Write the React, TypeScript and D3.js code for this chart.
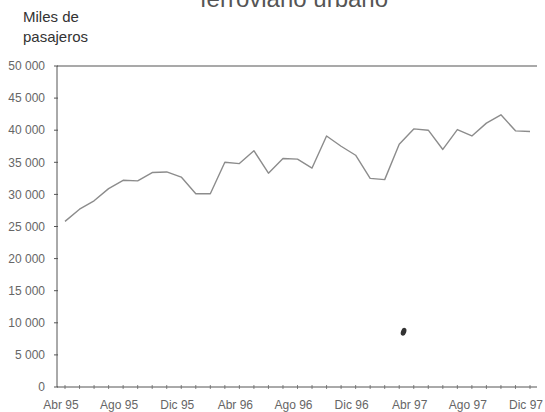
import * as d3 from 'd3';

// months shown, Apr 95 .. Dec 97
const months = [
    "Abr 95", "May 95", "Jun 95", "Jul 95", "Ago 95", "Sep 95", "Oct 95", "Nov 95", "Dic 95",
    "Ene 96", "Feb 96", "Mar 96", "Abr 96", "May 96", "Jun 96", "Jul 96", "Ago 96", "Sep 96",
    "Oct 96", "Nov 96", "Dic 96", "Ene 97", "Feb 97", "Mar 97", "Abr 97", "May 97", "Jun 97",
    "Jul 97", "Ago 97", "Sep 97", "Oct 97", "Nov 97", "Dic 97",
];

// miles de pasajeros
const pasajeros = [
    25800, 27700, 29000, 30900, 32200, 32100, 33400, 33500, 32700,
    30100, 30100, 35000, 34800, 36800, 33300, 35600, 35500, 34100,
    39100, 37500, 36100, 32500, 32300, 37800, 40200, 40000, 37000,
    40100, 39100, 41100, 42400, 39900, 39800,
];

const tickLabels = ["Abr 95", "Ago 95", "Dic 95", "Abr 96", "Ago 96", "Dic 96", "Abr 97", "Ago 97", "Dic 97"];
const yTicks = [0, 5000, 10000, 15000, 20000, 25000, 30000, 35000, 40000, 45000, 50000];

const W = 545;
const H = 412;
const font = "'Liberation Sans', Arial, sans-serif";

const App = () => {
    const x = d3.scaleLinear().domain([0, months.length - 1]).range([65, 530]);
    const y = d3.scaleLinear().domain([0, 50000]).range([387, 66]);
    const axisLeft = 57;
    const axisRight = 537;

    const line = d3.line<number>()
        .x((_, i) => x(i))
        .y(d => y(d));

    const fmt = (v: number) => v === 0 ? "0" : d3.format(",")(v).replace(/,/g, " ");

    return (
        <svg width={W} height={H} style={{ position: 'absolute', left: 0, top: 0, background: '#fff' }}>
            <text x={294} y={7} textAnchor="middle" fontFamily={font} fontSize={24} fill="#555">ferroviario urbano</text>
            <text x={23} y={22} fontFamily={font} fontSize={15} fill="#333">Miles de</text>
            <text x={23} y={42} fontFamily={font} fontSize={15} fill="#333">pasajeros</text>

            {/* y axis */}
            <line x1={axisLeft} x2={axisLeft} y1={y(50000)} y2={y(0)} stroke="#555" strokeWidth={1} />
            <line x1={axisLeft} x2={axisRight} y1={y(50000)} y2={y(50000)} stroke="#555" strokeWidth={1.2} />
            {yTicks.map(t => (
                <g key={t}>
                    <line x1={axisLeft - 3} x2={axisLeft + 1} y1={y(t)} y2={y(t)} stroke="#555" />
                    <text x={45} y={y(t)} dy="0.35em" textAnchor="end" fontFamily={font} fontSize={12} fill="#666">{fmt(t)}</text>
                </g>
            ))}

            {/* x axis */}
            <line x1={axisLeft} x2={axisRight} y1={y(0)} y2={y(0)} stroke="#555" strokeWidth={1} />
            {months.map((m, i) => (
                <line key={m} x1={x(i)} x2={x(i)} y1={y(0) - 2} y2={y(0) + 2} stroke="#666" strokeWidth={0.8} />
            ))}
            {tickLabels.map(l => (
                <text key={l} x={x(months.indexOf(l)) - 4} y={409} textAnchor="middle" fontFamily={font} fontSize={12} fill="#666">{l}</text>
            ))}

            <path d={line(pasajeros) ?? ""} fill="none" stroke="#8c8c8c" strokeWidth={1.4} strokeLinejoin="round" />

            {/* scan speck */}
            <ellipse cx={x(23.3)} cy={y(8600)} rx={2.6} ry={4} transform={`rotate(20 ${x(23.3)} ${y(8600)})`} fill="#333" />
        </svg>
    );
};

export default App;
